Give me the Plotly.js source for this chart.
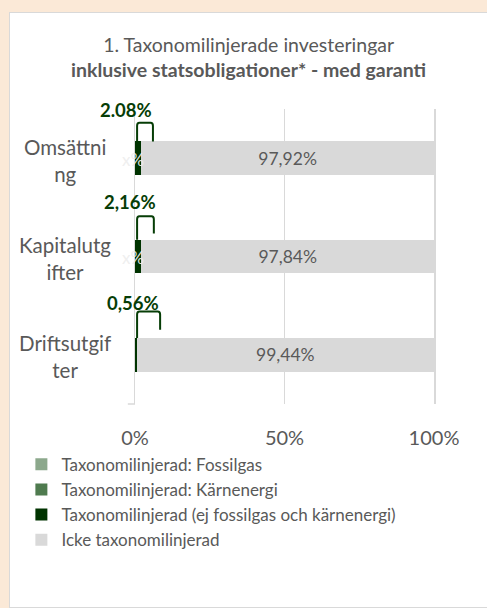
<!DOCTYPE html>
<html>
<head>
<meta charset="utf-8">
<script src="https://cdn.plot.ly/plotly-3.0.1.min.js"></script>
<style>
  html, body { margin: 0; padding: 0; width: 487px; height: 608px; overflow: hidden; background: #FBE9D7; }
  #panel { position: absolute; left: 9px; top: 12px; width: 490px; height: 594px; background: #ffffff; border: 1px solid #d9d9d9; }
  #chart { width: 490px; height: 594px; }
</style>
</head>
<body>
<div id="panel"><div id="chart"></div></div>
<script>
// ---- data ----
const categories = ['Omsättning', 'Kapitalutgifter', 'Driftsutgifter'];
const categoryLabels = ['Omsättni<br>ng', 'Kapitalutg<br>ifter', 'Driftsutgif<br>ter'];
const fossilgas = [0, 0, 0];
const karnenergi = [0, 0, 0];
const taxoOther = [2.08, 2.16, 0.56];
const ickeTaxo = [97.92, 97.84, 99.44];
const taxoLabels = ['2.08%', '2,16%', '0,56%'];
const smallLabels = ['x%', 'x%', ''];
const xTicks = [0, 50, 100];
const xTickLabels = ['0%', '50%', '100%'];
const seriesNames = [
  'Taxonomilinjerad: Fossilgas',
  'Taxonomilinjerad: Kärnenergi',
  'Taxonomilinjerad (ej fossilgas och kärnenergi)',
  'Icke taxonomilinjerad'
];

// ---- style ----
const FONT = 'Lato, "Open Sans", sans-serif';
const TXT = '#595959';
const colors = ['#8CA88C', '#4F7B4F', '#003300', '#D9D9D9'];
const DG = '#063d06';
const yIdx = categories.map((c, i) => i);
// per-category callout offsets (style)
const labelDy = [-0.49, -0.55, -0.53];
const labelShift = [-9.5, -5.5, -2];
const brTop = [-0.36, -0.41, -0.44];
const brBot = [-0.17, -0.235, -0.255];
const brRight = [6.0, 6.3, 8.4];
const brLeft = 0.7;

const series = [fossilgas, karnenergi, taxoOther, ickeTaxo];
const traces = series.map((vals, k) => ({
  type: 'bar',
  orientation: 'h',
  name: seriesNames[k],
  y: yIdx,
  x: vals,
  marker: { color: colors[k], line: { width: 0 } },
  text: k === 3 ? vals.map(v => v.toFixed(2).replace('.', ',') + '%') : undefined,
  textposition: k === 3 ? 'inside' : 'none',
  insidetextanchor: 'middle',
  textfont: { family: FONT, size: 17.5, color: TXT },
  hoverinfo: 'skip'
}));

const annotations = [];
categories.forEach((c, i) => {
  annotations.push({
    xref: 'paper', yref: 'y', x: -0.234, y: yIdx[i], yshift: -2,
    text: categoryLabels[i], showarrow: false, align: 'center',
    xanchor: 'center', yanchor: 'middle',
    font: { family: FONT, size: 20.5, color: TXT }
  });
  annotations.push({
    xref: 'x', yref: 'y', x: 0, xshift: labelShift[i], y: yIdx[i] + labelDy[i],
    text: '<b>' + taxoLabels[i] + '</b>', showarrow: false,
    xanchor: 'center', yanchor: 'middle',
    font: { family: FONT, size: 18.5, color: DG }
  });
  if (smallLabels[i]) {
    annotations.push({
      xref: 'x', yref: 'y', x: 0, xshift: -2, y: yIdx[i], yshift: -1,
      text: smallLabels[i], showarrow: false,
      xanchor: 'center', yanchor: 'middle',
      font: { family: FONT, size: 17, color: 'rgba(238,238,238,0.95)' }
    });
  }
});

const shapes = [];
categories.forEach((c, i) => {
  const x0 = brLeft, x1 = brRight[i];
  const y0 = yIdx[i] + brBot[i], y1 = yIdx[i] + brTop[i];
  const r = 0.03, rx = 0.8;
  shapes.push({
    type: 'path', xref: 'x', yref: 'y',
    path: `M ${x0},${yIdx[i] - 0.17} L ${x0},${y1 + r} Q ${x0},${y1} ${x0 + rx},${y1} L ${x1 - rx},${y1} Q ${x1},${y1} ${x1},${y1 + r} L ${x1},${y0}`,
    line: { color: DG, width: 2 }
  });
});
// small tick at bottom-left of the category axis
shapes.push({ type: 'line', xref: 'paper', yref: 'paper', x0: -0.024, x1: 0, y0: 0, y1: 0, line: { color: '#d9d9d9', width: 1.5 } });

const layout = {
  width: 490, height: 594,
  margin: { l: 125, r: 66, t: 96, b: 203 },
  paper_bgcolor: '#ffffff', plot_bgcolor: '#ffffff',
  barmode: 'stack', bargap: 0.66,
  separators: ',.',
  font: { family: FONT, color: TXT },
  title: {
    text: '1. Taxonomilinjerade investeringar<br><b>inklusive statsobligationer* - med garanti</b>',
    font: { family: FONT, size: 19.5, color: TXT },
    xref: 'container', x: 0.487, xanchor: 'center',
    yref: 'container', y: 1 - 39 / 594, yanchor: 'top'
  },
  xaxis: {
    range: [0, 100], tickvals: xTicks, ticktext: xTickLabels,
    showgrid: true, gridcolor: '#d9d9d9', gridwidth: 1.5,
    zeroline: false, showline: false, ticks: '',
    ticklabelstandoff: 20,
    tickfont: { family: FONT, size: 20, color: TXT }, fixedrange: true
  },
  yaxis: {
    range: [2.5, -0.5], showticklabels: false, showgrid: false,
    zeroline: false, showline: true, mirror: true, linecolor: '#d9d9d9', linewidth: 1.5,
    ticks: '', fixedrange: true
  },
  showlegend: true,
  legend: {
    orientation: 'v', traceorder: 'normal',
    xref: 'paper', yref: 'paper', x: -0.38, xanchor: 'left', y: -0.145, yanchor: 'top',
    font: { family: FONT, size: 17, color: TXT },
    bgcolor: 'rgba(0,0,0,0)', tracegroupgap: 0
  },
  annotations: annotations,
  shapes: shapes
};

Plotly.newPlot('chart', traces, layout, { displayModeBar: false, staticPlot: true });
</script>
</body>
</html>
